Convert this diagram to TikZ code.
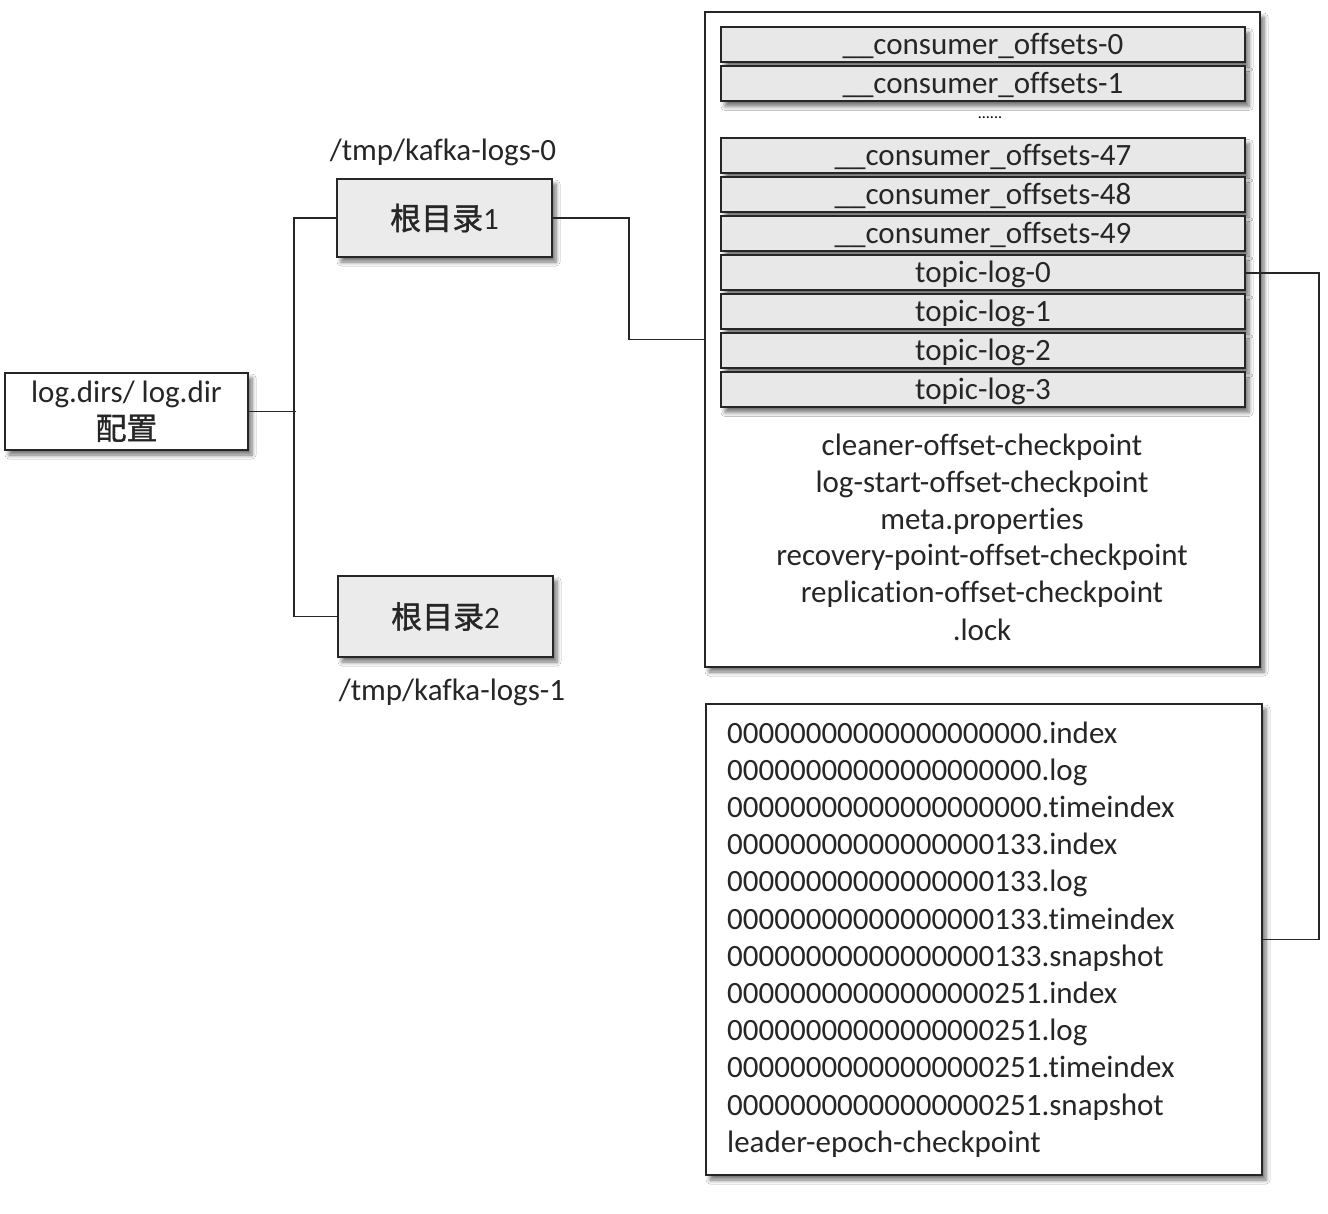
\documentclass[tikz,border=0pt]{standalone}
\usepackage{fontspec}
\setmainfont{Carlito}[Ligatures=NoCommon]
\newfontfamily\cjk{Noto Sans CJK SC}[FakeBold=1.2]
\usetikzlibrary{shadows.blur}
\newcommand{\bigfont}{\fontsize{31}{37}\selectfont}
\tikzset{
  x=1pt, y=-1pt,
  sh/.style={blur shadow={shadow xshift=4pt, shadow yshift=-5pt, shadow blur radius=4pt, shadow blur steps=6, shadow opacity=55}},
  plain/.style={draw=black!85, line width=2.2pt, fill=white, sh, inner sep=0pt},
  greybox/.style={draw=black!85, line width=2.2pt, fill=black!8, sh, inner sep=0pt},
  bar/.style={draw=black!85, line width=2pt, fill=black!9, sh, inner sep=0pt, minimum width=524pt, minimum height=35pt, text height=24pt, text depth=4pt, font=\bigfont, text=black!85},
  conn/.style={draw=black!85, line width=1.8pt},
  txt/.style={inner sep=0pt, font=\bigfont, text=black!85, text height=24pt, text depth=4pt},
}
\begin{document}
\begin{tikzpicture}
\useasboundingbox[fill=white] (0,0) rectangle (1328,1214);

% config box
\node[plain, minimum width=243pt, minimum height=77pt, align=center, font=\bigfont, text=black!85] (cfg) at (126.5,411.5) {log.dirs/ log.dir\\{\cjk 配置}};

% root directories
\node[greybox, minimum width=215pt, minimum height=78pt, font=\bigfont, text=black!85] (r1) at (444.5,218) {{\cjk 根目录}1};
\node[greybox, minimum width=215pt, minimum height=81pt, font=\bigfont, text=black!85] (r2) at (445.5,616.5) {{\cjk 根目录}2};
\node[txt] (l0) at (443,151) {/tmp/kafka-logs-0};
\node[txt] (l1) at (452,690) {/tmp/kafka-logs-1};

% big directory box
\node[plain, minimum width=555pt, minimum height=655pt] (big) at (982.5,339.5) {};
\node[bar] (c0) at (983,45) {\_\_consumer\_offsets-0};
\node[bar] (c1) at (983,84) {\_\_consumer\_offsets-1};
\node[inner sep=0pt, font=\fontsize{16}{18}\selectfont] (dots) at (990,118) {......};
\node[bar] (c47) at (983,156) {\_\_consumer\_offsets-47};
\node[bar] (c48) at (983,195) {\_\_consumer\_offsets-48};
\node[bar] (c49) at (983,234) {\_\_consumer\_offsets-49};
\node[bar] (t0) at (983,273) {topic-log-0};
\node[bar] (t1) at (983,312) {topic-log-1};
\node[bar] (t2) at (983,351) {topic-log-2};
\node[bar] (t3) at (983,390) {topic-log-3};
\node[txt] (f1) at (982,445) {cleaner-offset-checkpoint};
\node[txt] (f2) at (982,482) {log-start-offset-checkpoint};
\node[txt] (f3) at (982,519) {meta.properties};
\node[txt] (f4) at (982,555) {recovery-point-offset-checkpoint};
\node[txt] (f5) at (982,592) {replication-offset-checkpoint};
\node[txt] (f6) at (982,630) {.lock};

% segment box
\node[plain, minimum width=556pt, minimum height=471pt] (seg) at (984,939.5) {};
\foreach \t [count=\i from 0] in {
  00000000000000000000.index,
  00000000000000000000.log,
  00000000000000000000.timeindex,
  00000000000000000133.index,
  00000000000000000133.log,
  00000000000000000133.timeindex,
  00000000000000000133.snapshot,
  00000000000000000251.index,
  00000000000000000251.log,
  00000000000000000251.timeindex,
  00000000000000000251.snapshot,
  leader-epoch-checkpoint}
  \node[txt, anchor=west] (s\i) at (727,733+37.2*\i) {\t};

% connectors
\draw[conn] (cfg.east) -- ++(47,0) coordinate (j);
\draw[conn] (r1.west) -- ++(-42,0) |- (r2.west);
\draw[conn] (r1.east) -- ++(76,0) |- (big.west);
\draw[conn] (t0.east) -- ++(73,0) |- (seg.east);
\end{tikzpicture}
\end{document}
